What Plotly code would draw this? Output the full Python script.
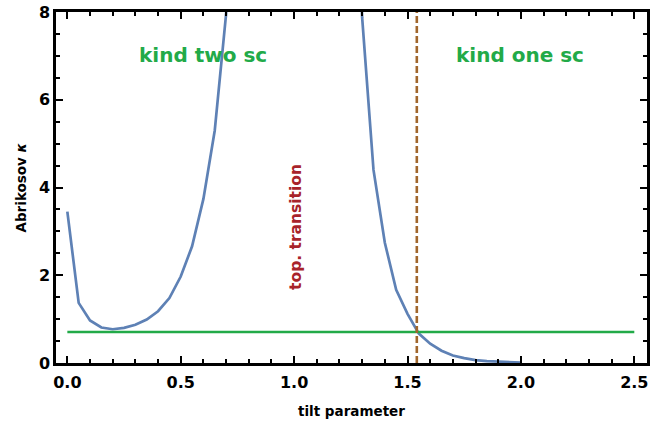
import plotly.graph_objects as go

# Data
left_x = [0.00, 0.05, 0.10, 0.15, 0.20, 0.25, 0.30, 0.35, 0.40, 0.45, 0.50, 0.55, 0.60, 0.65, 0.70, 0.75]
left_y = [3.45, 1.37, 0.97, 0.81, 0.77, 0.80, 0.87, 0.99, 1.18, 1.48, 1.97, 2.66, 3.74, 5.30, 7.95, 14.0]
right_x = [1.25, 1.30, 1.35, 1.40, 1.45, 1.50, 1.55, 1.60, 1.65, 1.70, 1.75, 1.80, 1.85, 1.90, 1.95, 2.00]
right_y = [15.0, 7.87, 4.40, 2.74, 1.67, 1.12, 0.67, 0.44, 0.28, 0.17, 0.11, 0.065, 0.045, 0.03, 0.02, 0.01]
kappa_crit = 0.7071
line_x = [0.0, 2.5]
transition_x = 1.541
x_ticks = [0.0, 0.5, 1.0, 1.5, 2.0, 2.5]
y_ticks = [0, 2, 4, 6, 8]

BLUE = "#5E81B5"
GREEN = "#22AA48"
BROWN = "#A0662C"
RED = "#A8232A"
FONT = "DejaVu Sans"

fig = go.Figure()
fig.add_trace(go.Scatter(x=left_x, y=left_y, mode="lines",
                         line=dict(color=BLUE, width=2.7), showlegend=False))
fig.add_trace(go.Scatter(x=right_x, y=right_y, mode="lines",
                         line=dict(color=BLUE, width=2.7), showlegend=False))
fig.add_trace(go.Scatter(x=line_x, y=[kappa_crit, kappa_crit], mode="lines",
                         line=dict(color=GREEN, width=2.4), showlegend=False))
fig.add_trace(go.Scatter(x=[transition_x, transition_x], y=[0, 8], mode="lines",
                         line=dict(color=BROWN, width=2.6, dash="7px,3px"), showlegend=False))

fig.add_annotation(x=0.598, y=7.02, xref="x", yref="y", text="kind two sc", showarrow=False,
                   font=dict(family=FONT, size=20, color=GREEN, weight="bold"))
fig.add_annotation(x=1.997, y=7.02, xref="x", yref="y", text="kind one sc", showarrow=False,
                   font=dict(family=FONT, size=20, color=GREEN, weight="bold"))
fig.add_annotation(x=1.008, y=3.10, xref="x", yref="y", text="top. transition", showarrow=False,
                   textangle=-90,
                   font=dict(family=FONT, size=15.5, color=RED, weight="bold"))

# axis titles placed explicitly
fig.add_annotation(x=0.5, y=0, xref="paper", yref="paper", text="tilt parameter",
                   showarrow=False, yshift=-48, yanchor="middle",
                   font=dict(family=FONT, size=13.5, color="black", weight="bold"))
fig.add_annotation(x=0, y=0.5, xref="paper", yref="paper", text="Abrikosov <i>κ</i>",
                   showarrow=False, xshift=-36, xanchor="center", textangle=-90,
                   font=dict(family=FONT, size=13.5, color="black", weight="bold"))

axis_common = dict(
    showline=True, linecolor="black", linewidth=2.5, mirror="allticks",
    ticks="inside", ticklen=7, tickwidth=2, tickcolor="black",
    showgrid=False, zeroline=False, automargin=False,
    tickfont=dict(family=FONT, size=16, color="black", weight="bold"),
)

fig.update_xaxes(range=[-0.05, 2.556], tickvals=x_ticks,
                 ticktext=[f"{v:.1f}" for v in x_ticks], ticklabelstandoff=3,
                 minor=dict(ticks="inside", ticklen=4, tickwidth=1.5, tickcolor="black", dtick=0.1, tick0=0),
                 **axis_common)
fig.update_yaxes(range=[0, 8], tickvals=y_ticks, ticktext=[str(v) for v in y_ticks],
                 minor=dict(ticks="inside", ticklen=4, tickwidth=1.5, tickcolor="black", dtick=0.5, tick0=0),
                 **axis_common)

fig.update_layout(width=669, height=429, margin=dict(l=56, r=22, t=12, b=66),
                  plot_bgcolor="white", paper_bgcolor="white")

fig.write_html("out.html")
